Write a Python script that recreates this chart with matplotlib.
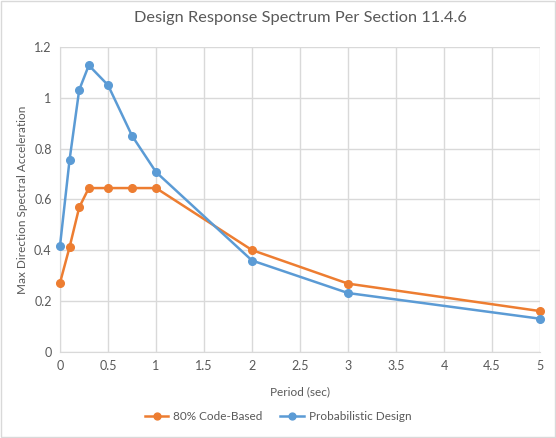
import matplotlib
matplotlib.use("Agg")
import matplotlib.pyplot as plt
from matplotlib.patches import Rectangle

# periods (sec) and spectral accelerations
period = [0, 0.1, 0.2, 0.3, 0.5, 0.75, 1, 2, 3, 5]
code_based = [0.272, 0.413, 0.569, 0.645, 0.645, 0.645, 0.645, 0.401, 0.269, 0.161]
probabilistic = [0.418, 0.757, 1.031, 1.128, 1.050, 0.851, 0.708, 0.360, 0.232, 0.131]

x_ticks = [0, 0.5, 1, 1.5, 2, 2.5, 3, 3.5, 4, 4.5, 5]
y_ticks = [0, 0.2, 0.4, 0.6, 0.8, 1, 1.2]

plt.rcParams['font.family'] = ['Lato', 'DejaVu Sans']
txt = '#595959'

fig = plt.figure(figsize=(5.56, 4.38), dpi=100)
ax = fig.add_axes([60/556, 1 - 352/438, 480/556, 305/438])

ax.plot(period, code_based, color='#ED7D31', lw=1.8, marker='o', ms=5.5,
        label='80% Code-Based', zorder=3, clip_on=False)
ax.plot(period, probabilistic, color='#5B9BD5', lw=1.8, marker='o', ms=5.5,
        label='Probabilistic Design', zorder=3, clip_on=False)

ax.set_xlim(0, 5)
ax.set_ylim(0, 1.2)
ax.set_xticks(x_ticks)
ax.set_xticklabels([f'{t:g}' for t in x_ticks])
ax.set_yticks(y_ticks)
ax.set_yticklabels([f'{t:g}' for t in y_ticks])
ax.grid(True, color='#D9D9D9', lw=1)
ax.set_axisbelow(True)
for s in ['top', 'right']:
    ax.spines[s].set_visible(False)
for s in ['left', 'bottom']:
    ax.spines[s].set_color('#D9D9D9')
ax.tick_params(length=0, colors=txt, labelsize=9, pad=6)

ax.set_title('Design Response Spectrum Per Section 11.4.6', fontsize=11.8, color=txt, pad=18)
ax.set_xlabel('Period (sec)', fontsize=8.5, color=txt, labelpad=10)
ax.set_ylabel('Max Direction Spectral Acceleration', fontsize=8.5, color=txt, labelpad=4)

leg = fig.legend(loc='center', bbox_to_anchor=(0.5, 1 - 417/438), ncol=2, frameon=False,
                 fontsize=8.5, handlelength=2.0, handletextpad=0.4, columnspacing=1.5,
                 markerscale=0.9, labelcolor=txt)

fig.patches.append(Rectangle((0.002, 0.002), 0.996, 0.996, transform=fig.transFigure,
                             fill=False, edgecolor='#D9D9D9', lw=1))

fig.savefig('out.png', dpi=100)
